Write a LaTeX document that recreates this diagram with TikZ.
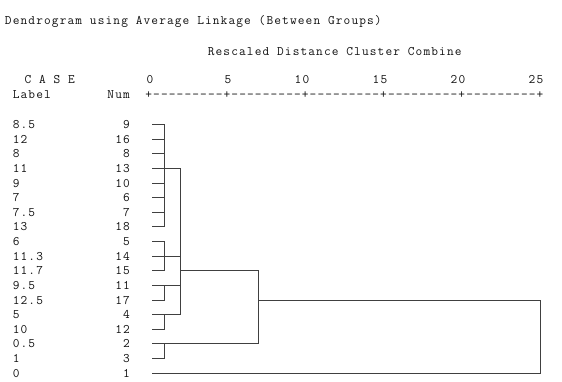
\documentclass[tikz,border=0pt]{standalone}
\usepackage{fontspec}
\setmonofont{Latin Modern Mono}[LetterSpace=8.7]
\usetikzlibrary{calc}
\definecolor{txt}{HTML}{111111}
\definecolor{ln}{HTML}{404040}
\begin{document}
\begin{tikzpicture}[x=1pt,y=-1pt,
  every node/.style={inner sep=0pt,outer sep=0pt,text=txt,font=\ttfamily\fontsize{13}{15}\selectfont},
  dline/.style={draw=ln,line width=1.2pt,line cap=rect}]
\useasboundingbox[fill=white] (0,0) rectangle (562,382);
% header texts
\node[anchor=base west] (title) at (5,25) {Dendrogram using Average Linkage (Between Groups)};
\node[anchor=base west] (rescaled) at (207.8,55.3) {Rescaled Distance Cluster Combine};
\node[anchor=base west] (case) at (24.5,84) {C A S E};
\node[anchor=base west] (lab) at (12.8,98.5) {Label};
\node[anchor=base east] (num) at (129.8,98.5) {Num};
\node[anchor=base west] (axis) at (145.4,98.5) {+---------+---------+---------+---------+---------+};
\foreach \v/\c in {0/18,5/28,10/38,15/48,20/58,25/68}{
  \node[anchor=base east] (t\v) at ({5+(\c+1)*7.8},84) {\v};
}
% rows
\foreach \i/\lb/\nm/\yy in {1/8.5/9/124.5,2/12/16/139.5,3/8/8/153.5,4/11/13/168.5,5/9/10/183.5,6/7/6/197.5,7/7.5/7/212.5,8/13/18/226.5,9/6/5/241.5,10/11.3/14/256.5,11/11.7/15/270.5,12/9.5/11/285.5,13/12.5/17/300.5,14/5/4/314.5,15/10/12/329.5,16/0.5/2/343.5,17/1/3/358.5,18/0/1/373.5}{
  \node[anchor=base west] (lb\i) at (12.8,\yy+4) {\lb};
  \node[anchor=base east] (nm\i) at (129.8,\yy+4) {\nm};
  \coordinate (l\i) at (153,\yy);
}
\coordinate (xa) at (164.5,0);
\coordinate (xb) at (180.5,0);
\coordinate (xc) at (258.5,0);
\coordinate (xd) at (540.5,0);
% leaf lines
\foreach \i in {1,...,17}{ \draw[dline] (l\i) -- (l\i-|xa); }
% first-level joins
\draw[dline] (l1-|xa) -- (l8-|xa);
\draw[dline] (l9-|xa) -- (l11-|xa);
\draw[dline] (l12-|xa) -- (l13-|xa);
\draw[dline] (l14-|xa) -- (l15-|xa);
\draw[dline] (l16-|xa) -- (l17-|xa);
\draw[dline] (l4-|xa) -- (l4-|xb);
\draw[dline] (l10-|xa) -- (l10-|xb);
\draw[dline] (l12-|xa) -- (l12-|xb);
\draw[dline] (l14-|xa) -- (l14-|xb);
% second level
\draw[dline] (l4-|xb) -- (l14-|xb);
\draw[dline] (l11-|xb) -- (l11-|xc);
\draw[dline] (l16-|xa) -- (l16-|xc);
\draw[dline] (l11-|xc) -- (l16-|xc);
% top level
\draw[dline] (l13-|xc) -- (l13-|xd);
\draw[dline] (l18) -- (l18-|xd);
\draw[dline] (l13-|xd) -- (l18-|xd);
\end{tikzpicture}
\end{document}
